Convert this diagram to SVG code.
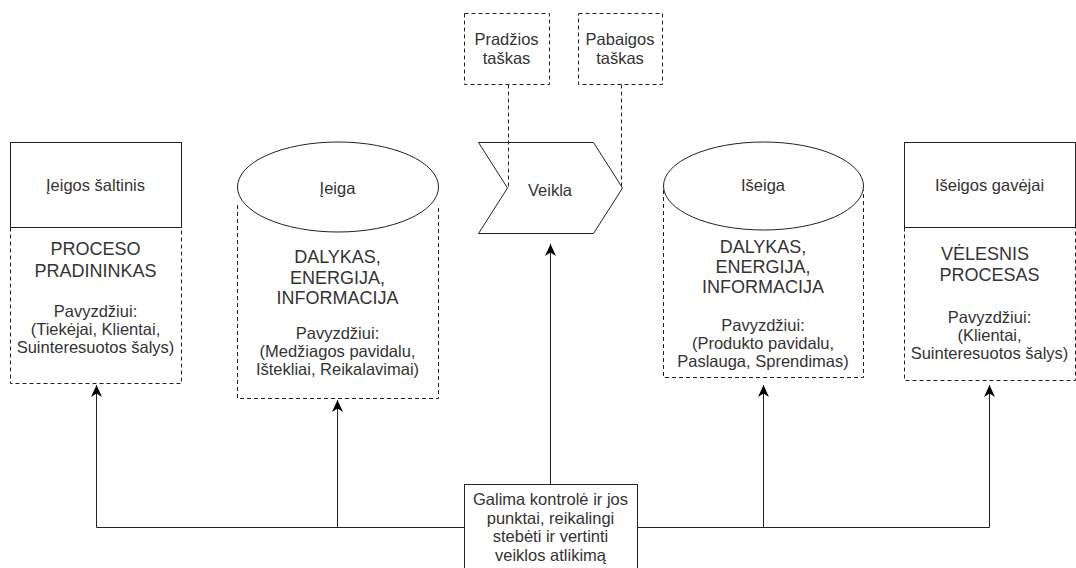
<svg xmlns="http://www.w3.org/2000/svg" width="1076" height="568" viewBox="0 0 1076 568">
<style>
.s{fill:#fff;stroke:#222;stroke-width:1}
.d{fill:none;stroke:#222;stroke-width:1;stroke-dasharray:4 3}
.t{font-family:"Liberation Sans",Arial,sans-serif;font-size:16.5px;fill:#333;text-anchor:middle}
.b{font-size:18px}
.c{fill:none;stroke:#222;stroke-width:1}
</style>
<defs>
<marker id="ar" viewBox="0 0 12 11" refX="12" refY="5.5" markerWidth="12" markerHeight="11" orient="auto" markerUnits="userSpaceOnUse">
<path d="M0,0 L12,5.5 L0,11 L3.5,5.5 Z" fill="#000"/>
</marker>
</defs>
<rect width="1076" height="568" fill="#fff"/>

<g id="node-source">
<rect class="s" x="10.5" y="142.5" width="171" height="85"/>
<path class="d" d="M10.5,227.5 V383.5 H181.5 V227.5"/>
<text class="t" x="95.5" y="190.5">Įeigos šaltinis</text>
<text class="t b" x="95.5" y="255">PROCESO</text>
<text class="t b" x="95.5" y="277">PRADININKAS</text>
<text class="t" x="95.5" y="317">Pavyzdžiui:</text>
<text class="t" x="95.5" y="335">(Tiekėjai, Klientai,</text>
<text class="t" x="95.5" y="353">Suinteresuotos šalys)</text>
</g>

<g id="node-input">
<path class="d" d="M237.5,205 V398.5 H438.5 V205"/>
<ellipse class="s" cx="338" cy="187" rx="100.5" ry="45"/>
<text class="t" x="337.5" y="194">Įeiga</text>
<text class="t b" x="337.5" y="262.5">DALYKAS,</text>
<text class="t b" x="337.5" y="283.5">ENERGIJA,</text>
<text class="t b" x="337.5" y="303.5">INFORMACIJA</text>
<text class="t" x="337.5" y="338.5">Pavyzdžiui:</text>
<text class="t" x="337.5" y="356.5">(Medžiagos pavidalu,</text>
<text class="t" x="337.5" y="374.5">Ištekliai, Reikalavimai)</text>
</g>

<g id="node-start">
<rect class="d" x="464.5" y="13.5" width="85" height="71"/>
<text class="t" x="506.5" y="45">Pradžios</text>
<text class="t" x="506.5" y="64">taškas</text>
</g>

<g id="node-end">
<rect class="d" x="578.5" y="13.5" width="84" height="71"/>
<text class="t" x="620" y="45">Pabaigos</text>
<text class="t" x="620" y="64">taškas</text>
</g>

<g id="node-activity">
<polygon class="s" points="478.5,142.5 593.5,142.5 622.5,188 593.5,233.5 478.5,233.5 507.5,188"/>
<text class="t" x="550" y="195.5">Veikla</text>
</g>

<g id="node-output">
<path class="d" d="M663.5,190 V377.5 H863.5 V190"/>
<ellipse class="s" cx="763.5" cy="186" rx="100" ry="44"/>
<text class="t" x="763" y="190.5">Išeiga</text>
<text class="t b" x="763" y="252.5">DALYKAS,</text>
<text class="t b" x="763" y="272.5">ENERGIJA,</text>
<text class="t b" x="763" y="292.5">INFORMACIJA</text>
<text class="t" x="763" y="330.5">Pavyzdžiui:</text>
<text class="t" x="763" y="348.5">(Produkto pavidalu,</text>
<text class="t" x="763" y="366.5">Paslauga, Sprendimas)</text>
</g>

<g id="node-receivers">
<rect class="s" x="904.5" y="142.5" width="171" height="85"/>
<path class="d" d="M904.5,227.5 V380.5 H1075.5 V227.5"/>
<text class="t" x="989.5" y="191">Išeigos gavėjai</text>
<text class="t b" x="985" y="260">VĖLESNIS</text>
<text class="t b" x="989.5" y="281">PROCESAS</text>
<text class="t" x="989.5" y="323">Pavyzdžiui:</text>
<text class="t" x="989.5" y="341">(Klientai,</text>
<text class="t" x="989.5" y="359">Suinteresuotos šalys)</text>
</g>

<g id="node-control">
<rect class="s" x="464.5" y="484.5" width="173" height="100"/>
<text class="t" x="550.5" y="505">Galima kontrolė ir jos</text>
<text class="t" x="550.5" y="523.5">punktai, reikalingi</text>
<text class="t" x="550.5" y="542">stebėti ir vertinti</text>
<text class="t" x="550.5" y="560.5">veiklos atlikimą</text>
</g>

<g id="connectors">
<path class="d" d="M508.5,84.5 V188"/>
<path class="d" d="M621.5,84.5 V188"/>
<path class="c" d="M550.5,484.5 V244" marker-end="url(#ar)"/>
<path class="c" d="M464.5,527.5 H96.5 V385" marker-end="url(#ar)"/>
<path class="c" d="M337.5,527.5 V400" marker-end="url(#ar)"/>
<path class="c" d="M637.5,527.5 H989.5 V385" marker-end="url(#ar)"/>
<path class="c" d="M763.5,527.5 V385" marker-end="url(#ar)"/>
</g>
</svg>
